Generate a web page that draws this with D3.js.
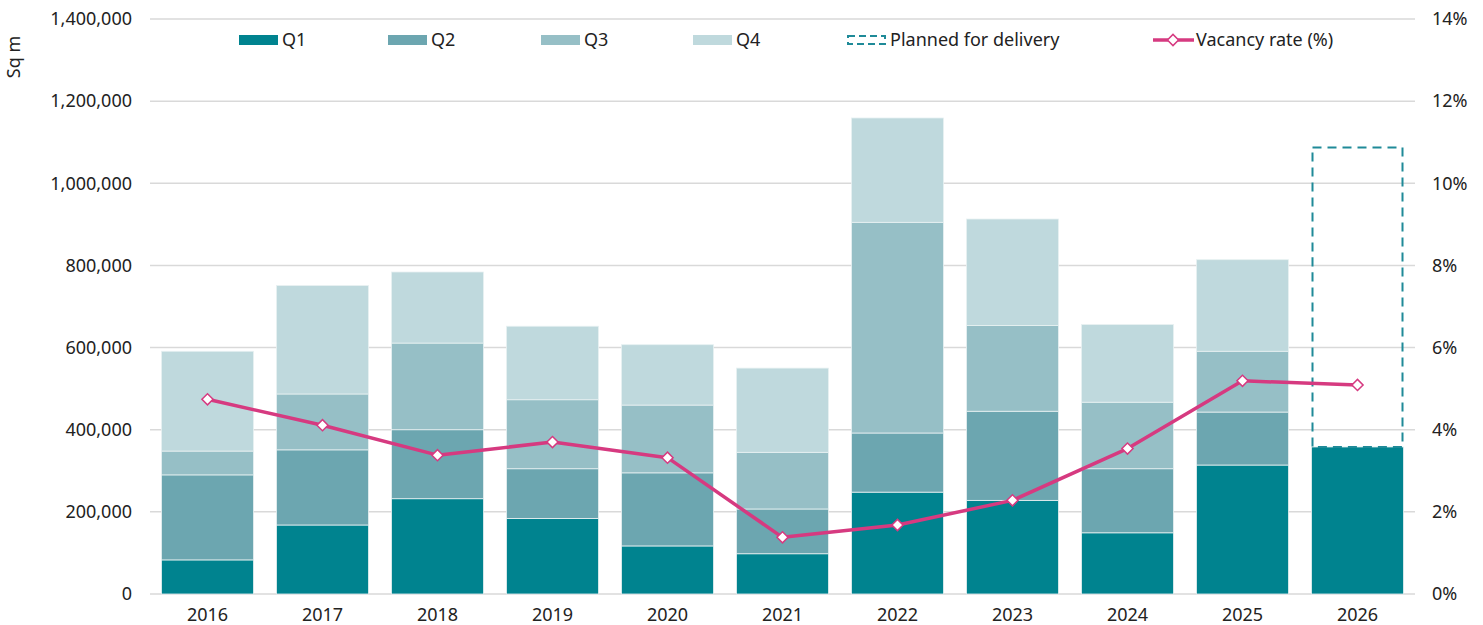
<!DOCTYPE html>
<html>
<head>
<meta charset="utf-8">
<script src="https://cdn.jsdelivr.net/npm/d3@7"></script>
<style>
  body { margin: 0; background: #fff; }
  text { font-family: "Noto Sans", sans-serif; fill: #222; }
</style>
</head>
<body>
<div id="chart"></div>
<script>
const years = ['2016', '2017', '2018', '2019', '2020', '2021', '2022', '2023', '2024', '2025', '2026'];
const q1 = [83000, 168000, 232000, 184000, 117000, 98000, 248000, 228000, 149000, 314000, 358000];
const q2 = [207000, 183000, 168000, 121000, 178000, 109000, 144000, 217000, 156000, 129000, 0];
const q3 = [58000, 136000, 211000, 168000, 165000, 138000, 513000, 209000, 162000, 148000, 0];
const q4 = [243000, 264000, 173000, 179000, 147000, 205000, 254000, 259000, 189000, 223000, 0];
const planned = [0, 0, 0, 0, 0, 0, 0, 0, 0, 0, 729000];
const vacancy = [4.74, 4.11, 3.38, 3.70, 3.32, 1.38, 1.68, 2.28, 3.54, 5.19, 5.09];
const leftTicks = [0, 200000, 400000, 600000, 800000, 1000000, 1200000, 1400000];
const rightTicks = [0, 2, 4, 6, 8, 10, 12, 14];

const width = 1483;
const height = 625;
const margin = { top: 19, right: 68, bottom: 31, left: 150 };
const innerW = width - margin.left - margin.right;
const innerH = height - margin.top - margin.bottom;

const keys = ['Q1', 'Q2', 'Q3', 'Q4'];
const colors = { Q1: '#00838f', Q2: '#6ca6b0', Q3: '#96bfc6', Q4: '#bfd9dd' };
const pink = '#d63a80';
const dashTeal = '#1f8a98';

const rows = years.map((y, i) => ({ year: y, Q1: q1[i], Q2: q2[i], Q3: q3[i], Q4: q4[i] }));

const svg = d3.select('#chart')
    .append('svg')
    .attr('width', width)
    .attr('height', height);

const g = svg.append('g')
    .attr('transform', `translate(${margin.left},${margin.top})`);

const x = d3.scaleBand()
    .domain(years)
    .range([0, innerW])
    .paddingInner(0.2)
    .paddingOuter(0.1);

const y = d3.scaleLinear()
    .domain([0, 1400000])
    .range([innerH, 0]);

const y2 = d3.scaleLinear()
    .domain([0, 14])
    .range([innerH, 0]);

// gridlines
g.selectAll('.grid')
    .data(leftTicks)
    .enter().append('line')
    .attr('x1', 0)
    .attr('x2', innerW)
    .attr('y1', d => y(d))
    .attr('y2', d => y(d))
    .attr('stroke', '#d9d9d9')
    .attr('stroke-width', 1.5);

// stacked bars
const series = d3.stack().keys(keys)(rows);

g.selectAll('.layer')
    .data(series)
    .enter().append('g')
    .attr('fill', d => colors[d.key])
    .selectAll('rect')
    .data(d => d.filter(p => p[1] > p[0]))
    .enter().append('rect')
    .attr('x', d => x(d.data.year))
    .attr('width', x.bandwidth())
    .attr('y', d => y(d[1]))
    .attr('height', d => y(d[0]) - y(d[1]))
    .attr('stroke', '#e8f1f2')
    .attr('stroke-width', 0.8);

// planned for delivery box
g.selectAll('.planned')
    .data(years.map((yr, i) => ({ year: yr, base: q1[i] + q2[i] + q3[i] + q4[i], value: planned[i] })).filter(d => d.value > 0))
    .enter().append('rect')
    .attr('x', d => x(d.year) + 1)
    .attr('width', x.bandwidth() - 2)
    .attr('y', d => y(d.base + d.value))
    .attr('height', d => y(d.base) - y(d.base + d.value))
    .attr('fill', 'none')
    .attr('stroke', dashTeal)
    .attr('stroke-width', 2)
    .attr('stroke-dasharray', '9,6');

// vacancy line
const line = d3.line()
    .x((d, i) => x(years[i]) + x.bandwidth() / 2)
    .y(d => y2(d));

g.append('path')
    .datum(vacancy)
    .attr('fill', 'none')
    .attr('stroke', pink)
    .attr('stroke-width', 3.5)
    .attr('stroke-linejoin', 'round')
    .attr('d', line);

const diamond = d3.symbol().type(d3.symbolSquare).size(62);

g.selectAll('.marker')
    .data(vacancy)
    .enter().append('path')
    .attr('d', diamond)
    .attr('transform', (d, i) => `translate(${x(years[i]) + x.bandwidth() / 2},${y2(d)}) rotate(45)`)
    .attr('fill', '#fff')
    .attr('stroke', pink)
    .attr('stroke-width', 1.5);

// axes
const xAxis = g.append('g')
    .attr('transform', `translate(0,${innerH})`)
    .call(d3.axisBottom(x).tickSize(0).tickPadding(14));

const yAxis = g.append('g')
    .call(d3.axisLeft(y).tickValues(leftTicks).tickFormat(d3.format(',')).tickSize(0).tickPadding(18));

const yAxis2 = g.append('g')
    .attr('transform', `translate(${innerW},0)`)
    .call(d3.axisRight(y2).tickValues(rightTicks).tickFormat(d => d + '%').tickSize(0).tickPadding(17));

[xAxis, yAxis, yAxis2].forEach(a => {
    a.select('.domain').remove();
    a.selectAll('text')
        .style('font-family', '"Noto Sans", sans-serif')
        .style('font-size', '18px')
        .attr('fill', '#222');
});

svg.append('text')
    .attr('transform', 'translate(20,57) rotate(-90)')
    .attr('text-anchor', 'middle')
    .style('font-size', '18px')
    .text('Sq m');

// legend
const legend = svg.append('g').attr('transform', 'translate(0,40)');
const legendItems = [
    { label: 'Q1', type: 'bar', color: colors.Q1, x: 239 },
    { label: 'Q2', type: 'bar', color: colors.Q2, x: 388 },
    { label: 'Q3', type: 'bar', color: colors.Q3, x: 541 },
    { label: 'Q4', type: 'bar', color: colors.Q4, x: 693 },
    { label: 'Planned for delivery', type: 'dash', color: dashTeal, x: 847 },
    { label: 'Vacancy rate (%)', type: 'line', color: pink, x: 1153 }
];

legendItems.forEach(item => {
    const li = legend.append('g').attr('transform', `translate(${item.x},0)`);
    if (item.type === 'bar') {
        li.append('rect')
            .attr('x', 0).attr('y', -5).attr('width', 39).attr('height', 10)
            .attr('fill', item.color);
    } else if (item.type === 'dash') {
        li.append('rect')
            .attr('x', 1).attr('y', -4).attr('width', 37).attr('height', 8)
            .attr('fill', 'none')
            .attr('stroke', item.color)
            .attr('stroke-width', 2)
            .attr('stroke-dasharray', '7,4');
    } else {
        li.append('line')
            .attr('x1', 0).attr('x2', 41).attr('y1', 0).attr('y2', 0)
            .attr('stroke', item.color).attr('stroke-width', 3.5);
        li.append('path')
            .attr('d', diamond)
            .attr('transform', 'translate(20,0) rotate(45)')
            .attr('fill', '#fff')
            .attr('stroke', item.color)
            .attr('stroke-width', 1.5);
    }
    li.append('text')
        .attr('x', 43)
        .attr('y', 0)
        .attr('dy', '0.35em')
        .style('font-size', '18px')
        .text(item.label);
});
</script>
</body>
</html>
